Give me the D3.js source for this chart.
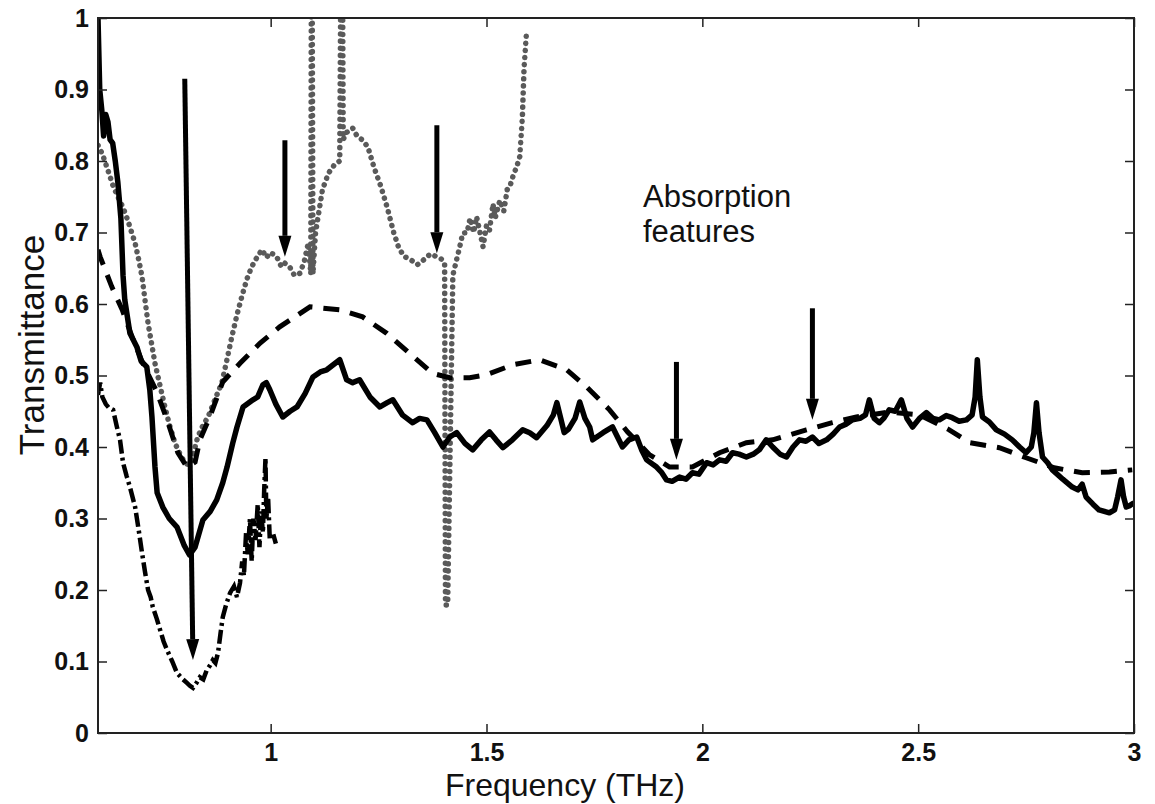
<!DOCTYPE html>
<html>
<head>
<meta charset="utf-8">
<script src="https://cdn.jsdelivr.net/npm/d3@7"></script>
<style>
  body { margin: 0; background: #fff; }
  svg { display: block; font-family: "Liberation Sans", Arial, Helvetica, sans-serif; }
</style>
</head>
<body>
<svg id="chart"></svg>
<script>
// frequency (THz), transmittance
const solidLine = [[0.600,1.000],[0.604,0.90],[0.609,0.87],[0.613,0.835],[0.618,0.865],[0.623,0.855],[0.628,0.83],[0.634,0.825],[0.640,0.80],[0.646,0.77],[0.653,0.72],[0.658,0.64],[0.662,0.606],[0.674,0.559],[0.690,0.54],[0.700,0.52],[0.713,0.512],[0.720,0.48],[0.725,0.442],[0.732,0.372],[0.737,0.336],[0.750,0.316],[0.765,0.30],[0.783,0.288],[0.800,0.262],[0.812,0.249],[0.825,0.26],[0.843,0.298],[0.860,0.31],[0.875,0.326],[0.889,0.35],[0.899,0.372],[0.912,0.405],[0.922,0.428],[0.936,0.456],[0.959,0.466],[0.970,0.47],[0.982,0.487],[0.990,0.49],[0.998,0.48],[1.012,0.46],[1.028,0.442],[1.045,0.45],[1.061,0.456],[1.080,0.475],[1.098,0.498],[1.115,0.505],[1.130,0.508],[1.145,0.515],[1.160,0.522],[1.176,0.494],[1.190,0.49],[1.206,0.494],[1.230,0.47],[1.253,0.456],[1.270,0.462],[1.283,0.466],[1.305,0.445],[1.329,0.434],[1.345,0.44],[1.362,0.438],[1.380,0.42],[1.399,0.40],[1.415,0.414],[1.431,0.42],[1.450,0.405],[1.468,0.396],[1.488,0.41],[1.507,0.421],[1.522,0.41],[1.538,0.399],[1.560,0.41],[1.584,0.424],[1.600,0.42],[1.616,0.413],[1.640,0.43],[1.655,0.445],[1.663,0.462],[1.672,0.44],[1.680,0.42],[1.690,0.425],[1.705,0.44],[1.716,0.463],[1.728,0.44],[1.739,0.428],[1.746,0.41],[1.770,0.42],[1.792,0.428],[1.815,0.40],[1.830,0.41],[1.848,0.414],[1.860,0.395],[1.871,0.382],[1.894,0.372],[1.905,0.365],[1.917,0.354],[1.930,0.352],[1.947,0.358],[1.962,0.355],[1.977,0.364],[1.992,0.362],[2.010,0.378],[2.025,0.375],[2.040,0.382],[2.055,0.38],[2.070,0.392],[2.085,0.39],[2.102,0.386],[2.118,0.39],[2.132,0.396],[2.148,0.41],[2.163,0.40],[2.180,0.39],[2.195,0.386],[2.210,0.4],[2.225,0.41],[2.240,0.408],[2.255,0.414],[2.270,0.405],[2.288,0.41],[2.303,0.418],[2.318,0.428],[2.333,0.432],[2.348,0.438],[2.365,0.44],[2.378,0.445],[2.387,0.466],[2.398,0.44],[2.410,0.434],[2.420,0.44],[2.433,0.452],[2.447,0.45],[2.461,0.466],[2.474,0.44],[2.487,0.428],[2.503,0.44],[2.519,0.448],[2.534,0.44],[2.549,0.438],[2.565,0.444],[2.579,0.441],[2.595,0.436],[2.612,0.438],[2.625,0.445],[2.632,0.47],[2.637,0.522],[2.643,0.47],[2.649,0.442],[2.665,0.435],[2.681,0.424],[2.700,0.418],[2.718,0.41],[2.735,0.40],[2.750,0.392],[2.762,0.40],[2.768,0.42],[2.774,0.462],[2.780,0.42],[2.788,0.386],[2.800,0.378],[2.811,0.368],[2.835,0.355],[2.857,0.344],[2.870,0.34],[2.880,0.348],[2.889,0.33],[2.905,0.32],[2.919,0.312],[2.943,0.308],[2.955,0.312],[2.962,0.33],[2.970,0.354],[2.976,0.33],[2.982,0.316],[2.990,0.318],[3.000,0.322]];

const dashedLine = [[0.600,0.676],[0.605,0.666],[0.632,0.624],[0.656,0.592],[0.679,0.554],[0.704,0.517],[0.737,0.476],[0.760,0.438],[0.785,0.392],[0.806,0.372],[0.825,0.379],[0.836,0.41],[0.859,0.442],[0.889,0.491],[0.929,0.517],[0.975,0.545],[1.021,0.568],[1.091,0.596],[1.160,0.592],[1.213,0.582],[1.269,0.559],[1.322,0.531],[1.375,0.503],[1.415,0.497],[1.461,0.497],[1.500,0.501],[1.561,0.515],[1.623,0.522],[1.686,0.508],[1.732,0.484],[1.785,0.452],[1.827,0.421],[1.878,0.389],[1.924,0.372],[1.977,0.372],[2.040,0.392],[2.102,0.406],[2.163,0.41],[2.241,0.424],[2.301,0.434],[2.357,0.442],[2.433,0.449],[2.503,0.445],[2.572,0.424],[2.619,0.406],[2.688,0.399],[2.750,0.385],[2.815,0.371],[2.880,0.364],[2.943,0.365],[2.996,0.368]];

const dottedLine = [[0.600,0.822],[0.610,0.81],[0.623,0.787],[0.635,0.765],[0.646,0.750],[0.658,0.735],[0.669,0.717],[0.678,0.70],[0.686,0.685],[0.695,0.66],[0.702,0.638],[0.709,0.605],[0.716,0.573],[0.724,0.545],[0.732,0.517],[0.744,0.485],[0.755,0.456],[0.766,0.43],[0.778,0.406],[0.790,0.39],[0.801,0.378],[0.810,0.375],[0.818,0.382],[0.825,0.40],[0.831,0.414],[0.843,0.43],[0.855,0.442],[0.870,0.465],[0.887,0.490],[0.898,0.52],[0.910,0.554],[0.922,0.585],[0.933,0.610],[0.945,0.635],[0.956,0.652],[0.968,0.665],[0.980,0.676],[0.990,0.665],[1.000,0.672],[1.014,0.666],[1.025,0.652],[1.033,0.657],[1.044,0.652],[1.055,0.64],[1.068,0.643],[1.078,0.66],[1.087,0.685],[1.093,0.642],[1.095,1.3],[1.098,0.642],[1.104,0.70],[1.112,0.73],[1.120,0.76],[1.134,0.783],[1.148,0.795],[1.160,0.80],[1.165,1.3],[1.168,0.83],[1.176,0.84],[1.190,0.846],[1.200,0.835],[1.211,0.83],[1.225,0.82],[1.240,0.79],[1.255,0.765],[1.270,0.735],[1.285,0.70],[1.296,0.68],[1.308,0.667],[1.324,0.662],[1.340,0.655],[1.355,0.662],[1.370,0.67],[1.385,0.666],[1.398,0.662],[1.403,0.655],[1.405,0.179],[1.410,0.179],[1.422,0.64],[1.430,0.66],[1.438,0.68],[1.445,0.699],[1.455,0.70],[1.462,0.72],[1.470,0.70],[1.477,0.722],[1.485,0.70],[1.492,0.68],[1.500,0.71],[1.507,0.703],[1.515,0.74],[1.520,0.72],[1.531,0.745],[1.540,0.73],[1.548,0.76],[1.554,0.764],[1.562,0.78],[1.570,0.792],[1.577,0.806],[1.583,0.86],[1.587,0.93],[1.593,0.983]];

const dashDotLine = [[0.600,0.473],[0.605,0.49],[0.610,0.47],[0.618,0.46],[0.625,0.455],[0.635,0.452],[0.643,0.43],[0.651,0.41],[0.658,0.378],[0.666,0.36],[0.674,0.344],[0.686,0.316],[0.694,0.285],[0.702,0.252],[0.709,0.225],[0.716,0.20],[0.722,0.19],[0.727,0.176],[0.736,0.16],[0.744,0.144],[0.752,0.128],[0.760,0.116],[0.772,0.10],[0.783,0.084],[0.795,0.076],[0.806,0.07],[0.813,0.066],[0.820,0.063],[0.828,0.07],[0.836,0.078],[0.844,0.075],[0.852,0.088],[0.860,0.095],[0.866,0.102],[0.872,0.098],[0.878,0.112],[0.884,0.14],[0.889,0.162],[0.897,0.18],[0.906,0.196],[0.915,0.205],[0.922,0.19],[0.929,0.21],[0.934,0.24],[0.938,0.22],[0.943,0.28],[0.947,0.25],[0.952,0.30],[0.956,0.24],[0.960,0.30],[0.965,0.27],[0.970,0.32],[0.974,0.26],[0.978,0.31],[0.982,0.28],[0.985,0.34],[0.988,0.385],[0.990,0.30],[0.994,0.33],[0.998,0.27],[1.005,0.28],[1.012,0.265]];

// arrows: start (f, T) -> tip (f, T)
const arrows = [
  { f0: 0.801, t0: 0.915, f1: 0.820, t1: 0.102 },
  { f0: 1.033, t0: 0.829, f1: 1.033, t1: 0.666 },
  { f0: 1.385, t0: 0.850, f1: 1.385, t1: 0.671 },
  { f0: 1.940, t0: 0.519, f1: 1.940, t1: 0.382 },
  { f0: 2.255, t0: 0.594, f1: 2.255, t1: 0.438 }
];

const xTicks = [1, 1.5, 2, 2.5, 3];
const yTicks = [0, 0.1, 0.2, 0.3, 0.4, 0.5, 0.6, 0.7, 0.8, 0.9, 1];
const noteLines = ["Absorption", "features"];

const svgW = 1155, svgH = 804;
const margin = { top: 18, right: 21, bottom: 71, left: 98 };
const width = svgW - margin.left - margin.right;
const height = svgH - margin.top - margin.bottom;

const root = d3.select("#chart").attr("width", svgW).attr("height", svgH);
root.append("rect").attr("width", svgW).attr("height", svgH).attr("fill", "#fff");
const svg = root.append("g").attr("transform", `translate(${margin.left},${margin.top})`);

const x = d3.scaleLinear().domain([0.6, 3]).range([0, width]);
const y = d3.scaleLinear().domain([0, 1]).range([height, 0]);

svg.append("clipPath").attr("id", "plotclip")
  .append("rect").attr("width", width).attr("height", height);

const line = d3.line().x(d => x(d[0])).y(d => y(d[1]));
const plot = svg.append("g").attr("clip-path", "url(#plotclip)");

plot.append("path").datum(dottedLine)
  .attr("d", line).attr("fill", "none")
  .attr("stroke", "#5a5a5a").attr("stroke-width", 5.5)
  .attr("stroke-linecap", "round").attr("stroke-dasharray", "0.1,7");

plot.append("path").datum(dashDotLine)
  .attr("d", line).attr("fill", "none")
  .attr("stroke", "#000").attr("stroke-width", 4.5)
  .attr("stroke-dasharray", "14,4,3,4");

plot.append("path").datum(dashedLine)
  .attr("d", line).attr("fill", "none")
  .attr("stroke", "#000").attr("stroke-width", 5)
  .attr("stroke-dasharray", "16,11");

plot.append("path").datum(solidLine)
  .attr("d", line).attr("fill", "none")
  .attr("stroke", "#000").attr("stroke-width", 5.5)
  .attr("stroke-linejoin", "round");

// arrows
const headLen = 21, headW = 13;
arrows.forEach(a => {
  const x0 = x(a.f0), y0 = y(a.t0), x1 = x(a.f1), y1 = y(a.t1);
  const ang = Math.atan2(y1 - y0, x1 - x0);
  const bx = x1 - headLen * Math.cos(ang), by = y1 - headLen * Math.sin(ang);
  const px = -Math.sin(ang) * headW / 2, py = Math.cos(ang) * headW / 2;
  plot.append("line")
    .attr("x1", x0).attr("y1", y0).attr("x2", bx).attr("y2", by)
    .attr("stroke", "#000").attr("stroke-width", 5);
  plot.append("path")
    .attr("d", `M${x1},${y1}L${bx + px},${by + py}L${bx - px},${by - py}Z`)
    .attr("fill", "#000");
});

// axes (ticks inward on all four sides)
const fmt = d => String(+d.toFixed(1));
const styleAxis = g => {
  g.select(".domain").remove();
  g.selectAll(".tick line").attr("stroke", "#222").attr("stroke-width", 1.5);
  g.selectAll(".tick text").attr("fill", "#111")
    .style("font-size", "25px").style("font-weight", "700");
};

svg.append("g").attr("transform", `translate(0,${height})`)
  .call(d3.axisBottom(x).tickValues(xTicks).tickFormat(fmt).tickSize(-9).tickPadding(10))
  .call(styleAxis);
svg.append("g")
  .call(d3.axisTop(x).tickValues(xTicks).tickFormat("").tickSize(-9))
  .call(styleAxis);
svg.append("g")
  .call(d3.axisLeft(y).tickValues(yTicks).tickFormat(fmt).tickSize(-9).tickPadding(9))
  .call(styleAxis);
svg.append("g").attr("transform", `translate(${width},0)`)
  .call(d3.axisRight(y).tickValues(yTicks).tickFormat("").tickSize(-9))
  .call(styleAxis);

svg.append("rect").attr("width", width).attr("height", height)
  .attr("fill", "none").attr("stroke", "#222").attr("stroke-width", 2);

// labels
svg.append("text")
  .attr("x", 565 - margin.left).attr("y", 796 - margin.top)
  .attr("text-anchor", "middle").style("font-size", "32px").attr("fill", "#111")
  .text("Frequency (THz)");

svg.append("text")
  .attr("transform", `translate(${44 - margin.left},${345 - margin.top}) rotate(-90)`)
  .attr("text-anchor", "middle").style("font-size", "35px").attr("fill", "#111")
  .text("Transmittance");

svg.append("g").selectAll("text").data(noteLines).enter().append("text")
  .attr("x", 643 - margin.left)
  .attr("y", (d, i) => 207 - margin.top + i * 35)
  .style("font-size", "31px").attr("fill", "#111")
  .text(d => d);
</script>
</body>
</html>
